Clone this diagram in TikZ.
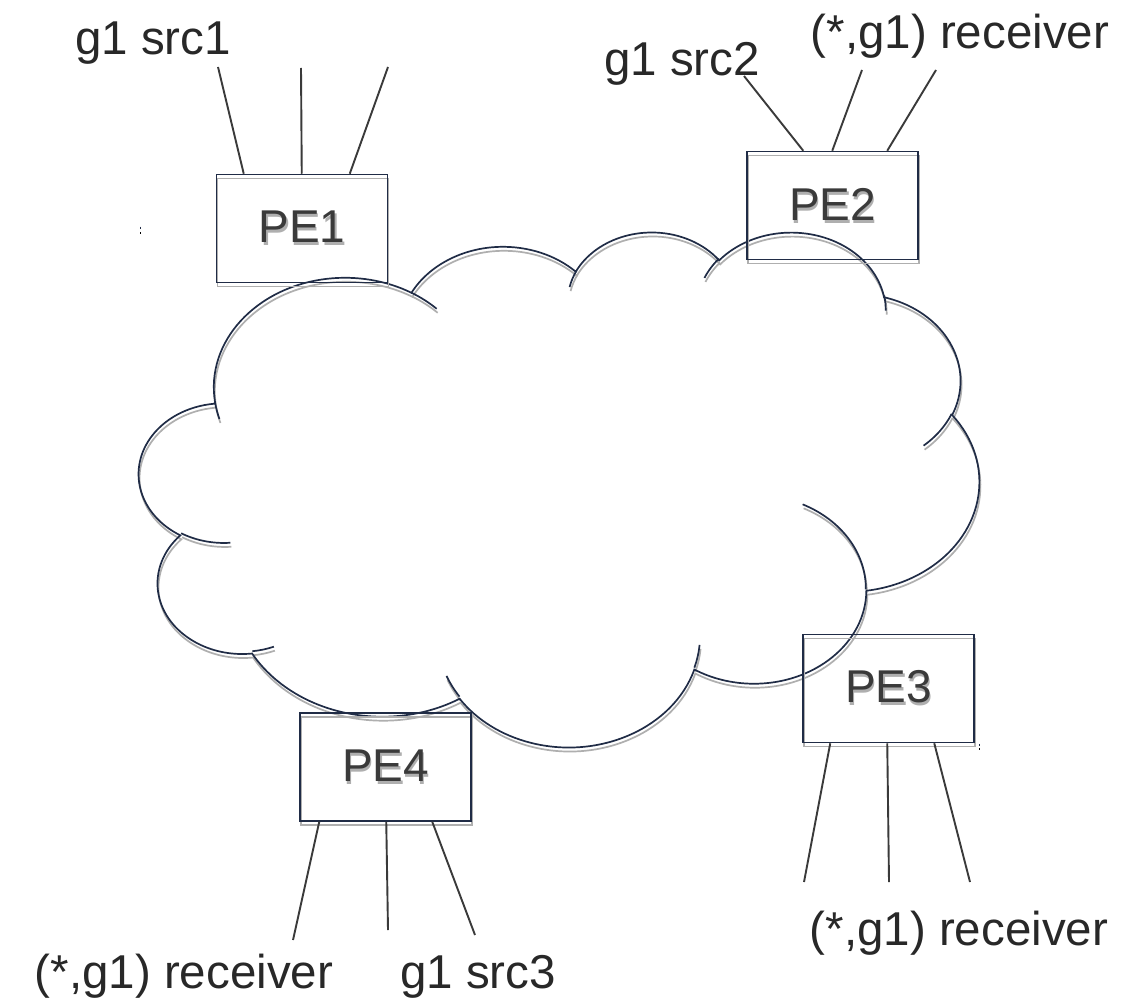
\documentclass[tikz,border=0pt]{standalone}
\usepackage{fontspec}
\setmainfont{Liberation Sans}
\usetikzlibrary{shadows}

\definecolor{navy}{RGB}{32,44,70}
\definecolor{shade}{RGB}{175,175,175}
\definecolor{ink}{RGB}{58,58,58}
\definecolor{labelink}{RGB}{40,40,40}

% text with a soft grey copy behind it
\newcommand{\shadowed}[1]{\raisebox{-4pt}{\makebox[0pt][l]{\kern1.5pt\raisebox{-3pt}{\color{shade}#1}}#1}}

\tikzset{
  pebox/.style={draw=navy, line width=1.5pt, text=ink,
    minimum width=171pt, minimum height=108pt, inner sep=0pt,
    font=\fontsize{46}{52}\selectfont,
    drop shadow={shadow xshift=1pt, shadow yshift=-4pt, opacity=1,
                 fill=none, draw=shade, line width=1.6pt}},
  wire/.style={draw=ink, line width=1.9pt},
  tag/.style={anchor=base, text=labelink, inner sep=0pt,
    font=\fontsize{47.5}{55}\selectfont},
  shadowlayer/.style={shift={(1pt,-4pt)}, color=shade},
  inklayer/.style={color=navy},
  cloudline/.style={line width=1.7pt}
}

\begin{document}
\begin{tikzpicture}[x=1pt, y=-1pt]
\useasboundingbox (0,0) rectangle (1126,1000);
\fill[white] (0,0) rectangle (1126,1000);

% the network cloud: eleven elliptic lobes, then the short inner tails
\foreach \layer in {shadowlayer, inklayer}{
\begin{scope}[shift={(139.2pt,-230.8pt)}, x=1.9439pt, y=-1.1917pt, \layer]
  \draw[cloudline] (39.00,143.70)
    arc[start angle=-187.75, end angle=-59.63,  x radius=67.53, y radius=91.90]
    arc[start angle=-152.04, end angle=-45.41,  x radius=53.33, y radius=72.67]
    arc[start angle=-153.49, end angle=-37.33,  x radius=43.65, y radius=59.45]
    arc[start angle=-139.71, end angle=-10.21,  x radius=48.57, y radius=65.95]
    arc[start angle=-74.77,  end angle=23.21,   x radius=53.33, y radius=72.73]
    arc[start angle=-37.52,  end angle=81.86,   x radius=67.75, y radius=92.20]
    arc[start angle=0.46,    end angle=121.98,  x radius=57.85, y radius=78.67]
    arc[start angle=16.84,   end angle=146.22,  x radius=67.52, y radius=92.15]
    arc[start angle=58.98,   end angle=150.19,  x radius=77.20, y radius=105.43]
    arc[start angle=-276.69, end angle=-136.91, x radius=43.60, y radius=59.18]
    arc[start angle=-239.65, end angle=-95.89,  x radius=43.45, y radius=59.45]
    -- cycle;
  \draw[cloudline]
    (46.93,261.77)  arc[start angle=85.55,   end angle=120.35,  x radius=43.45, y radius=59.45]
    (69.28,348.99)  arc[start angle=68.24,   end angle=83.31,   x radius=43.60, y radius=59.18]
    (164.78,390.90) arc[start angle=146.22,  end angle=158.47,  x radius=67.52, y radius=92.15]
    (288.27,347.51) arc[start angle=4.74,    end angle=16.84,   x radius=67.52, y radius=92.15]
    (341.29,229.54) arc[start angle=-64.03,  end angle=0.46,    x radius=57.85, y radius=78.67]
    (417.98,153.54) arc[start angle=23.21,   end angle=49.64,   x radius=53.33, y radius=72.73]
    (383.24,54.26)  arc[start angle=-10.21,  end angle=0.82,    x radius=48.57, y radius=65.95]
    (290.78,39.52)  arc[start angle=-156.29, end angle=-139.71, x radius=48.57, y radius=65.95]
    (221.41,47.20)  arc[start angle=-167.73, end angle=-153.49, x radius=43.65, y radius=59.45]
    (140.00,51.92)  arc[start angle=-59.63,  end angle=-45.69,  x radius=67.53, y radius=91.90]
    (41.27,157.89)  arc[start angle=163.20,  end angle=172.25,  x radius=67.53, y radius=91.90];
\end{scope}
}

% small stray marks
\draw[shade, line width=1pt] (140.5,232.3) -- (140.5,234.5);
\draw[navy, line width=1pt] (140.5,226.7) -- (140.5,229.3);
\draw[shade, line width=1pt] (979,748) -- (979,750);
\draw[navy, line width=1pt] (979,743.8) -- (979,746.2);

% provider edge routers
\node[pebox] (pe1) at (302,228.5) {\shadowed{PE1}};
\node[pebox] (pe2) at (832.5,205.5) {\shadowed{PE2}};
\node[pebox] (pe3) at (888.5,688.5) {\shadowed{PE3}};
\node[pebox] (pe4) at (385.5,767) {\shadowed{PE4}};

% free ends of the access links
\coordinate (a1) at (218,67);
\coordinate (a2) at (301,68);
\coordinate (a3) at (388,67);
\coordinate (b1) at (744,76);
\coordinate (b2) at (862,70);
\coordinate (b3) at (936,70);
\coordinate (c1) at (804,882);
\coordinate (c2) at (889,882);
\coordinate (c3) at (970,882);
\coordinate (d1) at (293,940);
\coordinate (d2) at (388,930);
\coordinate (d3) at (475,935);

\draw[wire] ([xshift=28pt]pe1.north west) -- (a1);
\draw[wire] ([xshift=86pt]pe1.north west) -- (a2);
\draw[wire] ([xshift=134pt]pe1.north west) -- (a3);
\draw[wire] ([xshift=57pt]pe2.north west) -- (b1);
\draw[wire] ([xshift=86pt]pe2.north west) -- (b2);
\draw[wire] ([xshift=141pt]pe2.north west) -- (b3);
\draw[wire] ([xshift=28pt]pe3.south west) -- (c1);
\draw[wire] ([xshift=85pt]pe3.south west) -- (c2);
\draw[wire] ([xshift=132pt]pe3.south west) -- (c3);
\draw[wire] ([xshift=20pt]pe4.south west) -- (d1);
\draw[wire] ([xshift=87pt]pe4.south west) -- (d2);
\draw[wire] ([xshift=133pt]pe4.south west) -- (d3);

% end-point labels
\node[tag] (l1) at (153,55) {g1 src1};
\node[tag] (l2) at (682,76) {g1 src2};
\node[tag] (l3) at (960,49) {(*,g1) receiver};
\node[tag] (l4) at (959,945) {(*,g1) receiver};
\node[tag] (l5) at (184,988.5) {(*,g1) receiver};
\node[tag] (l6) at (478,988.5) {g1 src3};
\end{tikzpicture}
\end{document}
